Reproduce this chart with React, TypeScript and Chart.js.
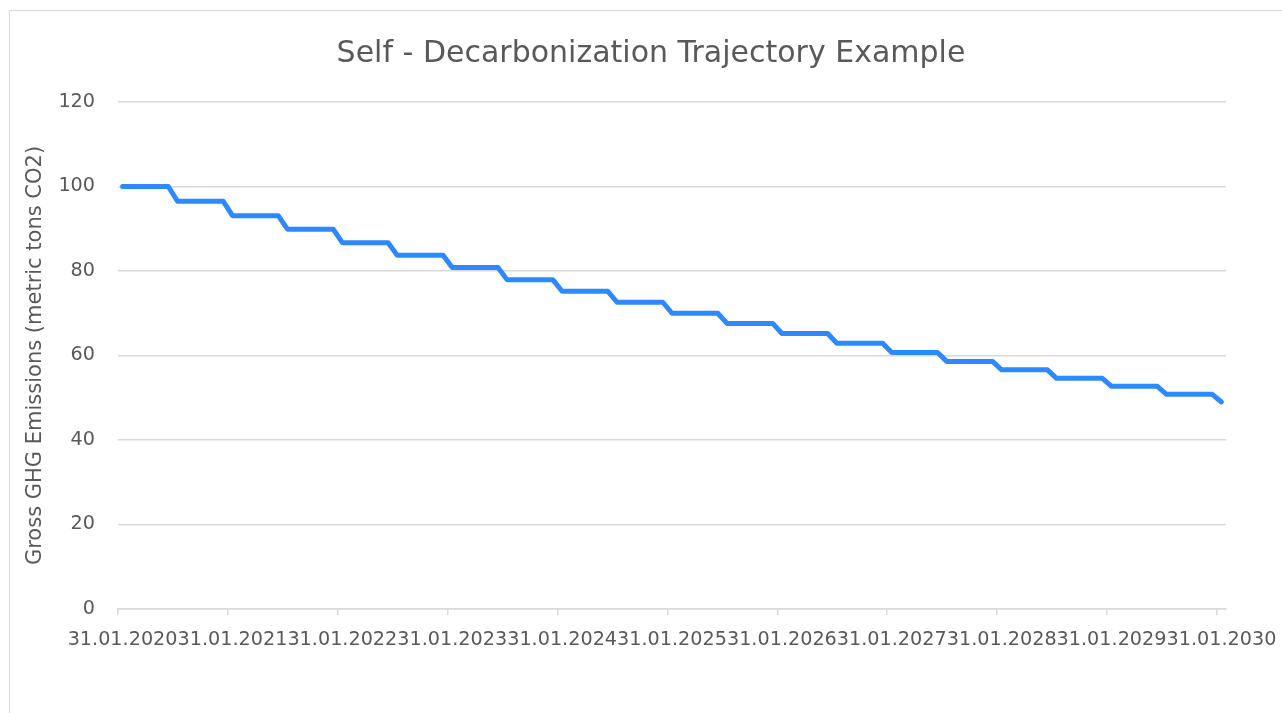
import React, { useEffect, useRef } from "react";
import { Chart, registerables } from "chart.js";

Chart.register(...registerables);

// Year tick labels shown on the x axis (one per January)
const yearLabels = [
  "31.01.2020", "31.01.2021", "31.01.2022", "31.01.2023", "31.01.2024", "31.01.2025",
  "31.01.2026", "31.01.2027", "31.01.2028", "31.01.2029", "31.01.2030",
];

// Monthly gross GHG emissions (metric tons CO2), Jan 2020 .. Jan 2030
const emissions = [
  100, 100, 100, 100, 100, 100,
  96.5, 96.5, 96.5, 96.5, 96.5, 96.5,
  93.1, 93.1, 93.1, 93.1, 93.1, 93.1,
  89.9, 89.9, 89.9, 89.9, 89.9, 89.9,
  86.7, 86.7, 86.7, 86.7, 86.7, 86.7,
  83.7, 83.7, 83.7, 83.7, 83.7, 83.7,
  80.8, 80.8, 80.8, 80.8, 80.8, 80.8,
  77.9, 77.9, 77.9, 77.9, 77.9, 77.9,
  75.2, 75.2, 75.2, 75.2, 75.2, 75.2,
  72.6, 72.6, 72.6, 72.6, 72.6, 72.6,
  70.0, 70.0, 70.0, 70.0, 70.0, 70.0,
  67.6, 67.6, 67.6, 67.6, 67.6, 67.6,
  65.2, 65.2, 65.2, 65.2, 65.2, 65.2,
  62.9, 62.9, 62.9, 62.9, 62.9, 62.9,
  60.7, 60.7, 60.7, 60.7, 60.7, 60.7,
  58.6, 58.6, 58.6, 58.6, 58.6, 58.6,
  56.6, 56.6, 56.6, 56.6, 56.6, 56.6,
  54.6, 54.6, 54.6, 54.6, 54.6, 54.6,
  52.7, 52.7, 52.7, 52.7, 52.7, 52.7,
  50.8, 50.8, 50.8, 50.8, 50.8, 50.8,
  49.0,
];

const titleText = "Self - Decarbonization Trajectory Example";
const yAxisTitle = "Gross GHG Emissions (metric tons CO2)";

const TEXT = "#595959";
const GRID = "#d9d9d9";
const LINE = "#2E88FF";
const FONT = "'DejaVu Sans', sans-serif";

export default function App() {
  const ref = useRef<HTMLCanvasElement | null>(null);

  useEffect(() => {
    if (!ref.current) return;
    const labels = emissions.map((_, i) => (i % 12 === 0 ? yearLabels[i / 12] : ""));
    const chart = new Chart(ref.current, {
      type: "line",
      data: {
        labels,
        datasets: [
          {
            data: emissions,
            borderColor: LINE,
            backgroundColor: LINE,
            borderWidth: 5,
            pointRadius: 0,
            tension: 0,
            borderCapStyle: "round",
            borderJoinStyle: "round",
            fill: false,
          },
        ],
      },
      options: {
        responsive: false,
        animation: false,
        layout: { padding: { left: 20, right: 0, top: 0, bottom: 0 } },
        plugins: {
          legend: { display: false },
          tooltip: { enabled: false },
          title: {
            display: true,
            text: titleText,
            color: TEXT,
            font: { family: FONT, size: 30, weight: "normal" },
            padding: { top: 36, bottom: 30 },
          },
        },
        scales: {
          x: {
            type: "category",
            offset: true,
            grid: {
              offset: true,
              drawOnChartArea: false,
              drawTicks: true,
              tickLength: 6,
              lineWidth: 1.5,
              color: (ctx: any) =>
                typeof ctx.index === "number" && ctx.index % 12 === 0 ? GRID : "rgba(0,0,0,0)",
            },
            border: { display: true, color: GRID, width: 1.5 },
            ticks: {
              autoSkip: false,
              maxRotation: 0,
              minRotation: 0,
              padding: 0,
              color: TEXT,
              font: { family: FONT, size: 19.2, lineHeight: 2.6 },
            },
            afterFit: (s: any) => {
              s.height = 104;
            },
          },
          y: {
            position: "left",
            min: 0,
            max: 120,
            grid: { color: GRID, lineWidth: 1.5, drawTicks: false },
            border: { display: false },
            ticks: {
              stepSize: 20,
              padding: 23,
              color: TEXT,
              font: { family: FONT, size: 19.2 },
            },
            title: {
              display: true,
              text: yAxisTitle,
              color: TEXT,
              font: { family: FONT, size: 21, weight: "normal" },
              padding: { top: 2.5, bottom: 0 },
            },
            afterFit: (s: any) => {
              s.width = 98;
            },
          },
          y2: {
            position: "right",
            display: true,
            grid: { display: false, drawTicks: false },
            border: { display: false },
            ticks: { display: false },
            afterFit: (s: any) => {
              s.width = 56;
            },
          },
        },
      },
    });
    return () => chart.destroy();
  }, []);

  return (
    <div style={{ position: "absolute", left: 0, top: 0, width: 1282, height: 713, background: "#fff" }}>
      <div
        style={{
          position: "absolute",
          left: 9,
          top: 10,
          width: 1273,
          height: 703,
          boxSizing: "border-box",
          borderLeft: "1px solid " + GRID,
          borderTop: "1px solid " + GRID,
        }}
      />
      <canvas
        ref={ref}
        width={1282}
        height={713}
        style={{ position: "absolute", left: 0, top: 0, width: 1282, height: 713 }}
      />
    </div>
  );
}
